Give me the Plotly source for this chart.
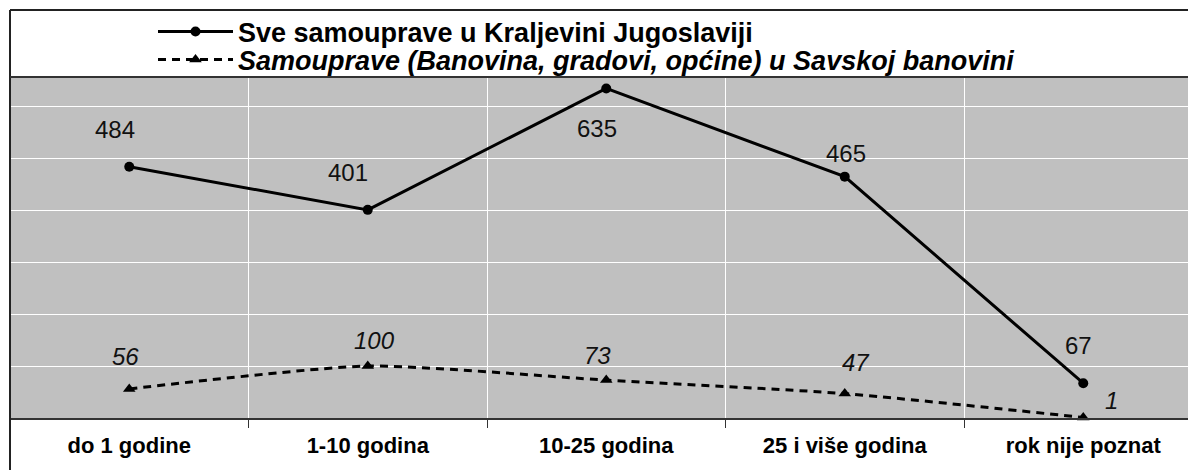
import plotly.graph_objects as go

# Rok trajanja (kategorije na osi x)
categories = ["do 1 godine", "1-10 godina", "10-25 godina", "25 i više godina", "rok nije poznat"]

# Broj samouprava po kategoriji
sve_samouprave = [484, 401, 635, 465, 67]
savska_banovina = [56, 100, 73, 47, 1]

name_sve = "Sve samouprave u Kraljevini Jugoslaviji"
name_savska = "Samouprave (Banovina, gradovi, općine) u Savskoj banovini"

# Pomaci natpisa vrijednosti (px) u odnosu na točku
shift_sve = [(-14, 37), (-20, 37), (-9, -40), (1, 23), (-5, 38)]
shift_savska = [(-4, 32), (7, 26), (-9, 25), (11, 31), (28, 17)]

FONT = "Liberation Sans, Arial, sans-serif"
W, H = 1188, 470
L, T, B = 10, 77, 52
plot_w = W - L
plot_h = H - T - B
cat_px = 238.5


def px_x(px):
    return (px - L) / plot_w


def px_y(px):
    return 1 + (T - px) / plot_h


fig = go.Figure()

fig.add_trace(go.Scatter(
    x=categories, y=sve_samouprave, name="<b>" + name_sve + "</b>",
    mode="lines+markers",
    line=dict(color="black", width=3),
    marker=dict(symbol="circle", size=10, color="black"),
    cliponaxis=False,
    legend="legend",
))
fig.add_trace(go.Scatter(
    x=categories, y=savska_banovina, name="<b><i>" + name_savska + "</i></b>",
    mode="lines+markers",
    line=dict(color="black", width=3, dash="8px,6px", shape="spline", smoothing=0.6),
    marker=dict(symbol="triangle-up", size=11, color="black"),
    cliponaxis=False,
    legend="legend2",
))

annotations = []
for cat, v, (dx, dy) in zip(categories, sve_samouprave, shift_sve):
    annotations.append(dict(x=cat, y=v, text=str(v), showarrow=False,
                            xshift=dx, yshift=dy,
                            font=dict(family=FONT, size=24, color="#111")))
for cat, v, (dx, dy) in zip(categories, savska_banovina, shift_savska):
    annotations.append(dict(x=cat, y=v, text="<i>" + str(v) + "</i>", showarrow=False,
                            xshift=dx, yshift=dy,
                            font=dict(family=FONT, size=24, color="#111")))

y_top = px_y(10)
y_bot = px_y(H + 20)

shapes = [
    # okvir grafikona
    dict(type="line", xref="paper", yref="paper", x0=0, x1=1.05, y0=y_top, y1=y_top,
         line=dict(color="#222", width=2)),
    dict(type="line", xref="paper", yref="paper", x0=0, x1=0, y0=y_bot, y1=y_top,
         line=dict(color="#222", width=2)),
    # gornji rub područja crtanja
    dict(type="line", xref="paper", yref="paper", x0=0, x1=1.05, y0=1, y1=1,
         line=dict(color="#333", width=2)),
]

legend_common = dict(
    xanchor="left", yanchor="middle",
    bgcolor="rgba(0,0,0,0)",
    font=dict(family=FONT, size=27, color="black"),
    itemwidth=75,
    tracegroupgap=0,
)

fig.update_layout(
    width=W, height=H,
    margin=dict(l=L, r=0, t=T, b=B, pad=0),
    paper_bgcolor="white",
    plot_bgcolor="#C0C0C0",
    font=dict(family=FONT, color="black"),
    showlegend=True,
    legend=dict(x=px_x(153), y=px_y(32), **legend_common),
    legend2=dict(x=px_x(153), y=px_y(60), **legend_common),
    xaxis=dict(
        type="category",
        range=[-0.5, -0.5 + plot_w / cat_px],
        tickson="boundaries",
        showgrid=True, gridcolor="white", gridwidth=1,
        ticks="outside", ticklen=8, tickcolor="#333", tickwidth=1,
        showline=True, linecolor="#333", linewidth=2,
        tickfont=dict(family=FONT, size=22, color="black", weight="bold"),
        ticklabelstandoff=7,
        zeroline=False,
    ),
    yaxis=dict(
        range=[0, 657],
        dtick=100,
        showgrid=True, gridcolor="white", gridwidth=1,
        showticklabels=False, ticks="",
        showline=False, zeroline=False,
    ),
    annotations=annotations,
    shapes=shapes,
)

fig.write_html("out.html")
